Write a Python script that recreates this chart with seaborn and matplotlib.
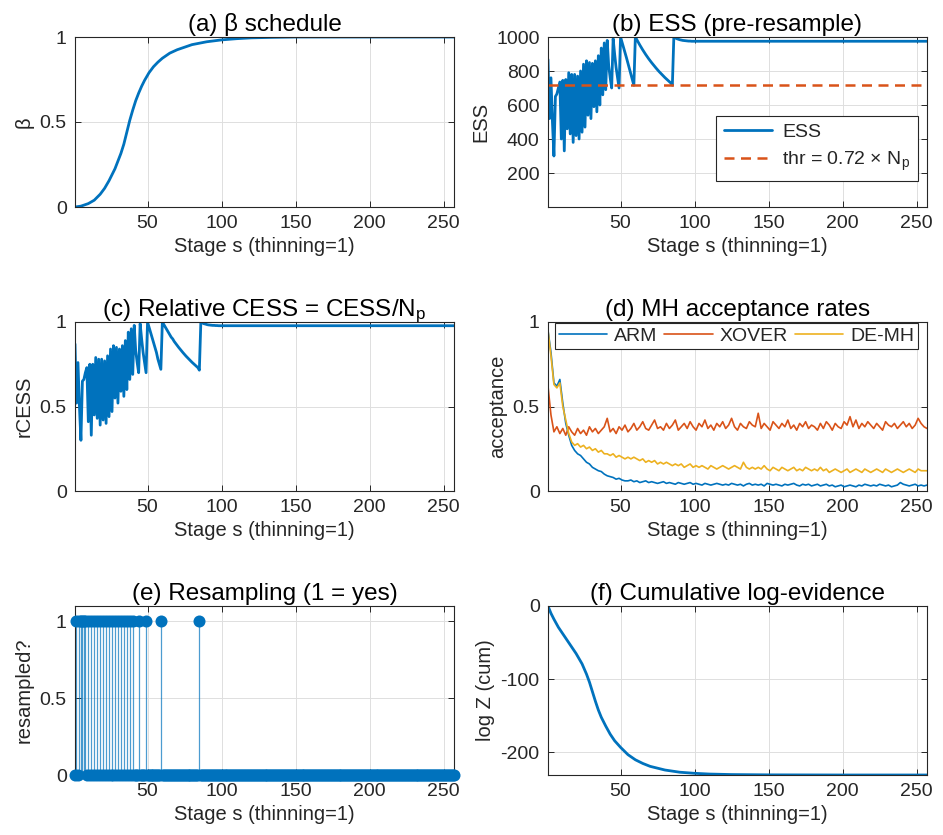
import matplotlib
matplotlib.use("Agg")
import matplotlib.pyplot as plt
from matplotlib.ticker import StrMethodFormatter
import numpy as np
import pandas as pd
import seaborn as sns

# ---- data ----
n_stages = 257
stages = list(range(1, n_stages + 1))

# (a) beta schedule, knots
beta_stage = [1, 5, 10, 14, 18, 21, 24, 26, 28, 30, 32, 34, 36, 38, 40, 42, 44,
              46, 48, 51, 54, 57, 60, 65, 70, 75, 80, 90, 100, 110, 120, 135, 150, 257]
beta_val = [0.0, 0.005, 0.02, 0.04, 0.075, 0.11, 0.155, 0.19, 0.225, 0.27, 0.315,
            0.37, 0.44, 0.51, 0.57, 0.625, 0.67, 0.71, 0.745, 0.79, 0.825, 0.852,
            0.875, 0.905, 0.925, 0.94, 0.955, 0.972, 0.983, 0.99, 0.995, 0.998,
            1.0, 1.0]

# (b) ESS before resampling, one value per stage
ess = ([868, 520, 760, 500, 300, 650, 665, 700, 735, 400,
        745, 330, 750, 460, 790, 430, 780, 380, 780, 420,
        770, 400, 800, 440, 840, 470, 860, 540, 850, 520,
        845, 590, 860, 560, 890, 600, 935, 660, 965, 690,
        980, 830, 760, 700, 990, 900, 820, 760, 700, 1000,
        970, 940, 910, 878, 846, 815, 782, 750, 716, 1000,
        984, 968, 953, 938, 924, 910, 897, 884, 872, 860,
        849, 838, 827, 817, 807, 797, 788, 779, 770, 761,
        753, 745, 737, 729, 716, 1000, 995, 990, 987, 984,
        982, 980, 979, 978, 977, 976, 976, 975, 975, 975]
       + [975] * 157)
n_particles = 1000
thr_frac = 0.72

# (c) relative CESS
rcess = ([0.87, 0.52, 0.76, 0.50, 0.30, 0.65, 0.66, 0.70, 0.73, 0.41,
          0.75, 0.33, 0.75, 0.45, 0.79, 0.43, 0.78, 0.39, 0.78, 0.42,
          0.77, 0.40, 0.80, 0.44, 0.84, 0.47, 0.86, 0.55, 0.85, 0.52,
          0.84, 0.59, 0.86, 0.56, 0.89, 0.60, 0.94, 0.66, 0.96, 0.69,
          0.98, 0.83, 0.76, 0.70, 0.99, 0.90, 0.82, 0.76, 0.70, 1.00,
          0.97, 0.94, 0.91, 0.88, 0.85, 0.82, 0.78, 0.75, 0.72, 1.00,
          0.985, 0.97, 0.955, 0.94, 0.925, 0.91, 0.90, 0.885, 0.873, 0.861,
          0.85, 0.839, 0.828, 0.818, 0.808, 0.798, 0.789, 0.78, 0.771, 0.762,
          0.754, 0.746, 0.738, 0.73, 0.715, 1.00, 0.995, 0.99, 0.988, 0.985,
          0.983, 0.982, 0.981, 0.98, 0.98, 0.979, 0.979, 0.978, 0.978, 0.978]
         + [0.978] * 157)

# (d) MH acceptance rates, read every second stage
acc_stage = list(range(1, n_stages + 1, 2))
acc_arm = [0.95, 0.82, 0.64, 0.62, 0.66, 0.52, 0.40, 0.33, 0.27, 0.24,
           0.22, 0.21, 0.19, 0.17, 0.16, 0.14, 0.13, 0.12, 0.115, 0.10,
           0.09, 0.085, 0.08, 0.07, 0.075, 0.065, 0.06, 0.06, 0.065, 0.055,
           0.06, 0.05, 0.055, 0.06, 0.05, 0.055, 0.05, 0.045, 0.05, 0.055,
           0.045, 0.05, 0.045, 0.04, 0.05, 0.045, 0.04, 0.045, 0.05, 0.04,
           0.045, 0.04, 0.035, 0.045, 0.04, 0.035, 0.04, 0.045, 0.04, 0.035,
           0.04, 0.035, 0.045, 0.04, 0.035, 0.04, 0.03, 0.04, 0.045, 0.035,
           0.04, 0.035, 0.04, 0.03, 0.045, 0.04, 0.035, 0.04, 0.035, 0.03,
           0.04, 0.035, 0.04, 0.045, 0.035, 0.03, 0.04, 0.035, 0.04, 0.03,
           0.035, 0.04, 0.03, 0.035, 0.04, 0.03, 0.035, 0.025, 0.03, 0.035,
           0.025, 0.03, 0.035, 0.03, 0.025, 0.035, 0.03, 0.04, 0.035, 0.03,
           0.035, 0.03, 0.04, 0.035, 0.03, 0.035, 0.025, 0.03, 0.035, 0.05,
           0.04, 0.035, 0.03, 0.035, 0.04, 0.03, 0.035, 0.03, 0.035]
acc_xover = [0.62, 0.45, 0.35, 0.38, 0.34, 0.37, 0.33, 0.38, 0.35, 0.33,
             0.37, 0.34, 0.36, 0.33, 0.38, 0.35, 0.37, 0.34, 0.36, 0.38,
             0.43, 0.35, 0.37, 0.34, 0.38, 0.36, 0.39, 0.35, 0.37, 0.40,
             0.36, 0.38, 0.41, 0.37, 0.36, 0.39, 0.42, 0.37, 0.38, 0.36,
             0.40, 0.37, 0.39, 0.42, 0.36, 0.38, 0.40, 0.37, 0.41, 0.38,
             0.36, 0.40, 0.38, 0.42, 0.37, 0.39, 0.36, 0.40, 0.38, 0.41,
             0.37, 0.39, 0.43, 0.38, 0.36, 0.40, 0.38, 0.37, 0.41, 0.39,
             0.38, 0.46, 0.37, 0.40, 0.38, 0.36, 0.41, 0.39, 0.37, 0.40,
             0.38, 0.42, 0.37, 0.39, 0.36, 0.40, 0.38, 0.41, 0.37, 0.39,
             0.38, 0.36, 0.40, 0.37, 0.41, 0.39, 0.36, 0.40, 0.38, 0.37,
             0.41, 0.39, 0.44, 0.38, 0.42, 0.37, 0.40, 0.38, 0.41, 0.39,
             0.37, 0.40, 0.38, 0.36, 0.41, 0.39, 0.38, 0.40, 0.37, 0.39,
             0.41, 0.38, 0.40, 0.37, 0.39, 0.43, 0.40, 0.38, 0.37]
acc_demh = [0.95, 0.80, 0.63, 0.61, 0.64, 0.50, 0.42, 0.34, 0.29, 0.27,
            0.28, 0.26, 0.27, 0.25, 0.26, 0.24, 0.25, 0.23, 0.24, 0.22,
            0.22, 0.21, 0.22, 0.20, 0.21, 0.20, 0.19, 0.20, 0.19, 0.20,
            0.19, 0.18, 0.19, 0.17, 0.18, 0.17, 0.18, 0.16, 0.17, 0.16,
            0.17, 0.16, 0.15, 0.16, 0.15, 0.16, 0.14, 0.15, 0.16, 0.14,
            0.15, 0.14, 0.15, 0.14, 0.13, 0.15, 0.14, 0.13, 0.14, 0.15,
            0.14, 0.13, 0.14, 0.15, 0.14, 0.13, 0.17, 0.14, 0.13, 0.14,
            0.13, 0.14, 0.13, 0.15, 0.13, 0.12, 0.14, 0.13, 0.12, 0.14,
            0.13, 0.12, 0.13, 0.14, 0.12, 0.13, 0.12, 0.14, 0.13, 0.12,
            0.13, 0.12, 0.14, 0.12, 0.13, 0.11, 0.12, 0.13, 0.12, 0.11,
            0.12, 0.13, 0.11, 0.12, 0.13, 0.12, 0.11, 0.13, 0.12, 0.11,
            0.12, 0.13, 0.12, 0.11, 0.13, 0.12, 0.11, 0.12, 0.13, 0.12,
            0.11, 0.12, 0.13, 0.12, 0.11, 0.13, 0.12, 0.12, 0.12]

# (e) stages where resampling happened
resample_stages = [2, 4, 5, 6, 7, 8, 10, 12, 14, 16, 18, 20, 22, 24, 26, 28,
                   30, 32, 34, 36, 38, 40, 44, 49, 59, 85]

# (f) cumulative log-evidence, knots
logz_stage = [1, 3, 5, 8, 12, 16, 20, 24, 27, 29, 31, 33, 35, 37, 40, 43, 46,
              50, 55, 60, 65, 70, 80, 90, 100, 110, 125, 150, 200, 257]
logz_val = [0, -10, -18, -29, -41, -53, -65, -79, -93, -104, -117, -130, -142,
            -152, -164, -175, -184, -193, -203, -210, -215, -219, -224, -227,
            -228.5, -229.5, -230.2, -230.6, -230.8, -230.8]

# ---- style ----
sns.set_theme(style="whitegrid")
plt.rcParams['font.family'] = ['Liberation Sans', 'DejaVu Sans']
plt.rcParams['mathtext.fontset'] = 'custom'
plt.rcParams['mathtext.rm'] = 'Liberation Sans'
plt.rcParams['mathtext.it'] = 'Liberation Sans:italic'
plt.rcParams['axes.unicode_minus'] = False

BLUE = '#0072BD'
ORANGE = '#D95319'
YELLOW = '#EDB120'
DARK = '#262626'

W, H = 943, 835
fig = plt.figure(figsize=(W / 100, H / 100), dpi=100)


def make_ax(left, top, width, height):
    return fig.add_axes([left / W, 1 - (top + height) / H, width / W, height / H])


def style_ax(ax, title, ylabel):
    ax.set_xlim(1, n_stages)
    ax.set_xticks([50, 100, 150, 200, 250])
    ax.set_facecolor('white')
    ax.grid(True, color='#dedede', lw=0.7)
    for sp in ax.spines.values():
        sp.set_color(DARK)
        sp.set_linewidth(0.8)
        sp.set_visible(True)
    ax.tick_params(direction='in', length=4, width=0.7, colors=DARK,
                   labelsize=14, top=True, right=True, pad=6,
                   bottom=True, left=True)
    ax.set_title(title, fontsize=17.5, color='black', pad=4)
    ax.set_xlabel('Stage s (thinning=1)', fontsize=14.5, color=DARK, labelpad=3)
    ax.set_ylabel(ylabel, fontsize=14.5, color=DARK, labelpad=4)
    ax.yaxis.set_major_formatter(StrMethodFormatter('{x:g}'))


col_l, col_r, col_w = 75, 548, 379
row_t = [37, 322, 606]
row_h = 169

# (a)
ax = make_ax(col_l, row_t[0], col_w, 170)
sns.lineplot(x=beta_stage, y=beta_val, ax=ax, color=BLUE, lw=2.0)
ax.set_ylim(0, 1)
ax.set_yticks([0, 0.5, 1])
style_ax(ax, '(a) β schedule', 'β')

# (b)
ax = make_ax(col_r, row_t[0], col_w, 170)
sns.lineplot(x=stages, y=ess, ax=ax, color=BLUE, lw=2.0, label='ESS')
ax.axhline(thr_frac * n_particles, color=ORANGE, lw=1.8, ls='--', dashes=(4, 2.6),
           label=r'thr = 0.72 × N$_\mathregular{p}$')
ax.set_ylim(0, 1000)
ax.set_yticks([200, 400, 600, 800, 1000])
style_ax(ax, '(b) ESS (pre-resample)', 'ESS')
leg = ax.legend(loc='lower right', bbox_to_anchor=(0.976, 0.155), fontsize=14,
                frameon=True, fancybox=False, edgecolor=DARK, framealpha=1,
                handlelength=2.5, handletextpad=0.5, borderpad=0.4,
                labelspacing=0.45, borderaxespad=0)
leg.get_frame().set_linewidth(0.8)

# (c)
ax = make_ax(col_l, row_t[1], col_w, row_h)
sns.lineplot(x=stages, y=rcess, ax=ax, color=BLUE, lw=2.0)
ax.set_ylim(0, 1)
ax.set_yticks([0, 0.5, 1])
style_ax(ax, r'(c) Relative CESS = CESS/N$_\mathregular{p}$', 'rCESS')

# (d)
ax = make_ax(col_r, row_t[1], col_w, row_h)
sns.lineplot(x=acc_stage, y=acc_arm, ax=ax, color=BLUE, lw=1.2, label='ARM')
sns.lineplot(x=acc_stage, y=acc_xover, ax=ax, color=ORANGE, lw=1.2, label='XOVER')
sns.lineplot(x=acc_stage, y=acc_demh, ax=ax, color=YELLOW, lw=1.2, label='DE-MH')
ax.set_ylim(0, 1)
ax.set_yticks([0, 0.5, 1])
style_ax(ax, '(d) MH acceptance rates', 'acceptance')
leg = ax.legend(loc='upper right', bbox_to_anchor=(0.976, 0.993), ncol=3,
                fontsize=14, frameon=True, fancybox=False, edgecolor=DARK,
                framealpha=1, handlelength=2.5, columnspacing=0.35,
                handletextpad=0.35, borderpad=0.2, borderaxespad=0)
leg.get_frame().set_linewidth(0.8)

# (e)
ax = make_ax(col_l, row_t[2], col_w, row_h)
resampled = pd.DataFrame({'stage': stages,
                          'flag': [1 if s in resample_stages else 0 for s in stages]})
ax.vlines(resample_stages, 0, 1, color=BLUE, lw=0.9, alpha=0.7)
sns.scatterplot(data=resampled, x='stage', y='flag', ax=ax, color=BLUE, s=75,
                linewidth=0, clip_on=False, zorder=3)
ax.set_ylim(0, 1.1)
ax.set_yticks([0, 0.5, 1])
style_ax(ax, '(e) Resampling (1 = yes)', 'resampled?')

# (f)
ax = make_ax(col_r, row_t[2], col_w, row_h)
sns.lineplot(x=logz_stage, y=logz_val, ax=ax, color=BLUE, lw=2.0)
ax.set_ylim(min(logz_val), 0)
ax.set_yticks([-200, -100, 0])
style_ax(ax, '(f) Cumulative log-evidence', 'log Z (cum)')

fig.savefig('out.png', dpi=100)
